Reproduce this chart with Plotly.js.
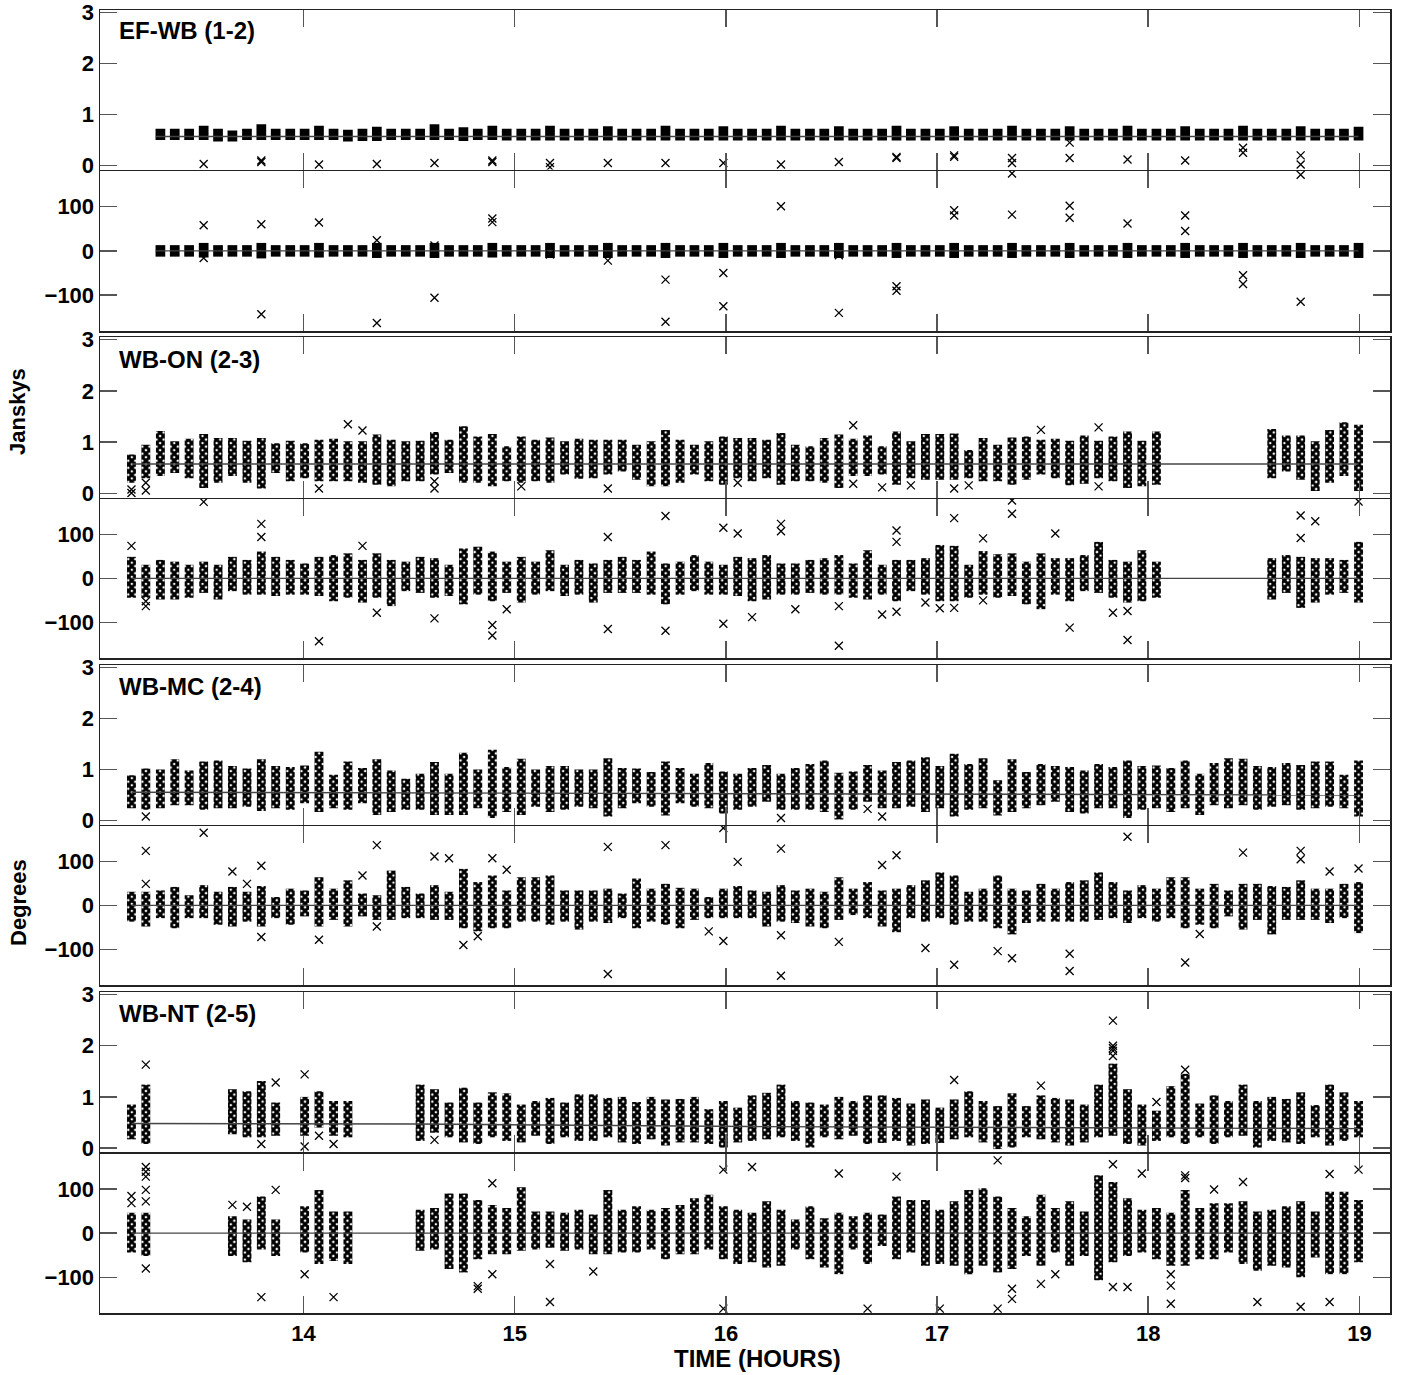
<!DOCTYPE html>
<html><head><meta charset="utf-8">
<script src="https://cdn.plot.ly/plotly-3.0.1.min.js"></script>
<style>html,body{margin:0;padding:0;background:#fff}#plot{width:1401px;height:1375px}</style>
</head><body><div id="plot"></div>
<script>
// ---- scan times (hours) ----
const scanTimes = [13.185,13.253,13.322,13.390,13.458,13.527,13.595,13.663,13.732,13.800,
13.868,13.937,14.005,14.073,14.142,14.210,14.279,14.347,14.415,14.484,
14.552,14.620,14.689,14.757,14.825,14.894,14.962,15.031,15.099,15.167,
15.236,15.304,15.372,15.441,15.509,15.577,15.646,15.714,15.783,15.851,
15.919,15.988,16.056,16.124,16.193,16.261,16.329,16.398,16.466,16.535,
16.603,16.671,16.740,16.808,16.876,16.945,17.013,17.081,17.150,17.218,
17.287,17.355,17.423,17.492,17.560,17.628,17.697,17.765,17.833,17.902,
17.970,18.039,18.107,18.175,18.244,18.312,18.380,18.449,18.517,18.585,
18.654,18.722,18.791,18.859,18.927,18.996];
const N = null;
// ---- EF-WB (1-2) ----
const efwbAmpHi = [N,N,.72,.72,.72,.78,.72,.69,.72,.81, .72,.72,.72,.78,.72,.70,.72,.76,.72,.72,
 .72,.81,.72,.75,.72,.78,.72,.72,.72,.78, .72,.72,.72,.77,.72,.72,.72,.78,.72,.72,
 .72,.77,.72,.72,.72,.78,.72,.72,.72,.77, .72,.72,.72,.78,.72,.72,.72,.77,.72,.72,
 .72,.78,.72,.72,.72,.77,.72,.72,.72,.78, .72,.72,.72,.77,.72,.72,.72,.78,.72,.72,
 .72,.77,.72,.72,.72,.76];
const efwbAmpLo = [N,N,.50,.50,.50,.50,.47,.47,.50,.50, .50,.50,.50,.50,.50,.47,.48,.48,.50,.50,
 .50,.50,.50,.48,.50,.50,.49,.49,.49,.49, .49,.49,.49,.49,.49,.49,.49,.49,.49,.49,
 .49,.49,.49,.49,.49,.49,.49,.49,.49,.49, .49,.49,.49,.49,.49,.49,.49,.49,.49,.49,
 .49,.49,.49,.49,.49,.49,.49,.49,.49,.49, .49,.49,.49,.49,.49,.49,.49,.49,.49,.49,
 .49,.49,.49,.49,.49,.49];
const efwbAmpOut = [[5,.03],[9,.07],[9,.10],[13,.02],[17,.03],[21,.05],[25,.10],[25,.07],[29,.05],[29,-.03],
 [33,.05],[37,.05],[41,.05],[45,.02],[49,.07],[53,.17],[53,.15],[57,.20],[57,.17],[61,.15],[61,.05],
 [65,.45],[65,.15],[69,.12],[73,.10],[77,.35],[77,.25],[81,.20],[81,.02]];
const efwbPhsHi = [N,N,13,13,13,18,13,13,13,18, 13,13,13,18,13,13,13,18,13,13, 13,18,13,13,13,18,13,13,13,18,
 13,13,13,18,13,13,13,18,13,13, 13,18,13,13,13,18,13,13,13,18, 13,13,13,18,13,13,13,18,13,13,
 13,18,13,13,13,18,13,13,13,18, 13,13,13,18,13,13,13,18,13,13, 13,18,13,13,13,18];
const efwbPhsLo = [N,N,-13,-13,-13,-15,-13,-13,-13,-17, -13,-13,-13,-15,-13,-13,-13,-16,-13,-13, -13,-16,-13,-13,-13,-15,-13,-13,-13,-16,
 -13,-13,-13,-16,-13,-13,-13,-16,-13,-13, -13,-16,-13,-13,-13,-16,-13,-13,-13,-16, -13,-13,-13,-16,-13,-13,-13,-16,-13,-13,
 -13,-16,-13,-13,-13,-16,-13,-13,-13,-16, -13,-13,-13,-16,-13,-13,-13,-16,-13,-13, -13,-16,-13,-13,-13,-16];
const efwbPhsOut = [[5,58],[5,-16],[9,60],[9,-143],[13,64],[17,24],[17,-163],[21,12],[21,-106],[25,73],[25,65],
 [29,-8],[33,-22],[37,-65],[37,-160],[41,-50],[41,-125],[45,101],[49,-140],[49,-10],[53,-80],[53,-90],
 [57,92],[57,80],[61,82],[61,175],[65,102],[65,75],[69,62],[73,80],[73,45],[77,-55],[77,-75],[81,-115],[81,172]];
// ---- WB-ON (2-3) ----
const onAmpHi = [.76,.95,1.22,1.02,1.07,1.16,1.08,1.08,1.03,1.08, .98,1.03,.98,1.05,1.07,1.02,1.02,1.15,1.05,1.02,
 1.03,1.20,1.05,1.31,1.11,1.16,.92,1.11,1.05,1.09, 1.02,1.07,1.05,1.05,1.05,.95,1.02,1.24,1.05,.95,
 1.02,1.11,1.08,1.08,1.05,1.18,.95,.92,1.08,1.15, 1.07,1.13,.92,1.21,1.02,1.16,1.16,1.17,.85,1.08,
 .95,1.09,1.11,1.05,1.07,1.03,1.13,1.03,1.11,1.21, 1.03,1.21,N,N,N,N,N,N,N,1.26, 1.13,1.13,1.02,1.24,1.39,1.34];
const onAmpLo = [.21,.30,.34,.40,.30,.11,.21,.34,.21,.10, .40,.24,.30,.24,.24,.24,.21,.17,.14,.24,
 .24,.37,.40,.21,.21,.14,.24,.21,.24,.21, .37,.29,.30,.37,.43,.27,.14,.14,.21,.37,
 .24,.17,.30,.24,.30,.17,.24,.24,.21,.11, .34,.34,.37,.17,.30,.27,.27,.27,.30,.24,
 .24,.17,.27,.37,.30,.16,.19,.30,.24,.11, .14,.17,N,N,N,N,N,N,N,.30, .43,.27,.05,.21,.34,.05];
const onAmpOut = [[0,.08],[0,.01],[1,.21],[1,.06],[13,.10],[15,1.35],[16,1.23],[21,.24],[21,.10],[27,.14],[33,.10],
 [42,.21],[50,1.33],[50,.19],[52,.12],[54,.16],[57,.10],[58,.16],[63,1.24],[67,1.29],[67,.14]];
const onPhsHi = [49,31,42,38,31,38,31,49,42,61, 49,42,34,49,53,57,42,57,42,38, 49,46,31,68,72,61,38,49,38,64,
 31,42,34,42,49,42,61,34,38,53, 38,31,49,46,53,34,34,42,46,53, 34,64,31,42,42,46,76,74,31,62,
 55,57,38,57,46,46,53,83,42,38, 64,38,N,N,N,N,N,N,N,46, 53,49,46,46,42,83];
const onPhsLo = [-44,-44,-48,-48,-44,-33,-48,-29,-37,-37, -40,-37,-37,-40,-52,-44,-55,-44,-63,-29,
 -33,-44,-40,-59,-37,-52,-33,-55,-37,-29, -40,-37,-55,-33,-33,-33,-37,-59,-37,-29,
 -37,-37,-40,-52,-48,-37,-37,-33,-37,-37, -44,-48,-37,-52,-29,-37,-52,-52,-44,-37,
 -44,-40,-59,-70,-37,-52,-29,-33,-44,-55, -52,-44,N,N,N,N,N,N,N,-48, -33,-67,-55,-37,-33,-55];
const onPhsOut = [[0,74],[1,-52],[1,-63],[5,174],[9,124],[9,94],[13,-143],[16,74],[17,-78],[21,-91],[25,-106],[25,-130],
 [26,-70],[33,94],[33,-115],[37,142],[37,-119],[41,115],[41,-103],[42,102],[43,-88],[45,124],[45,107],[46,-70],
 [49,-63],[49,-153],[52,-82],[53,109],[53,83],[53,-76],[55,-55],[56,-68],[57,137],[57,-67],[59,91],[59,-50],
 [61,147],[61,177],[64,102],[65,-112],[68,-78],[69,-74],[69,-140],[81,143],[81,92],[82,130],[85,175]];
// ---- WB-MC (2-4) ----
const mcAmpHi = [.89,1.02,1.0,1.2,.98,1.16,1.18,1.07,1.02,1.2, 1.07,1.05,1.08,1.35,.9,1.16,1.03,1.2,.98,.82,
 .92,1.15,.92,1.33,1.0,1.39,1.05,1.21,1.0,1.07, 1.07,1.0,1.0,1.22,1.03,1.02,.95,1.16,1.03,.92,
 1.13,.96,.92,1.03,1.09,.92,1.03,1.11,1.18,.94, .96,1.09,.98,1.15,1.18,1.24,1.07,1.31,1.11,1.22,
 .79,1.2,.95,1.11,1.07,1.05,.98,1.11,1.05,1.18, 1.07,1.08,1.03,1.18,.92,1.13,1.22,1.21,1.07,1.05,
 1.13,1.09,1.16,1.16,.9,1.18];
const mcAmpLo = [.24,.21,.24,.3,.3,.21,.24,.24,.27,.19, .24,.21,.34,.17,.24,.21,.34,.11,.17,.21,
 .21,.11,.11,.11,.24,.05,.17,.11,.27,.17, .21,.27,.24,.08,.24,.34,.27,.1,.34,.27,
 .24,.14,.21,.27,.37,.21,.21,.21,.17,.02, .21,.37,.24,.24,.27,.17,.24,.08,.21,.24,
 .10,.17,.24,.3,.37,.17,.14,.24,.24,.05, .21,.24,.17,.24,.11,.3,.24,.3,.21,.27,
 .3,.21,.24,.27,.24,.08];
const mcAmpOut = [[1,.08],[45,.05],[51,.23],[52,.08]];
const mcPhsHi = [31,31,34,42,23,46,31,42,31,44, 19,38,34,64,38,57,27,23,79,42, 27,46,31,83,53,68,34,64,64,68,
 34,34,34,38,27,61,38,49,40,38, 19,38,44,34,31,46,34,38,31,64, 38,53,34,38,46,57,75,68,31,38,
 68,38,34,49,38,53,57,75,53,34, 46,38,64,64,38,49,34,49,49,44, 42,57,38,38,49,53];
const mcPhsLo = [-37,-48,-29,-52,-29,-29,-44,-48,-37,-48, -29,-44,-25,-48,-33,-48,-25,-33,-33,-29,
 -29,-33,-33,-52,-59,-52,-52,-37,-37,-44, -37,-55,-37,-40,-29,-52,-37,-44,-52,-33,
 -29,-29,-29,-29,-48,-37,-40,-48,-52,-33, -22,-29,-48,-61,-29,-37,-29,-44,-37,-37,
 -52,-66,-40,-37,-37,-37,-37,-33,-29,-40, -29,-37,-29,-52,-44,-52,-25,-55,-33,-66,
 -33,-33,-33,-40,-29,-63];
const mcPhsOut = [[1,124],[1,49],[5,165],[7,77],[8,49],[9,90],[9,-72],[13,-78],[16,68],[17,137],[17,-48],[21,111],
 [22,107],[23,-90],[24,-70],[25,107],[26,81],[33,133],[33,-156],[37,137],[40,-59],[41,-81],[41,176],[42,99],
 [45,129],[45,-68],[45,-160],[49,-83],[52,92],[53,114],[55,-97],[57,-135],[60,-104],[61,-120],[65,-110],[65,-149],
 [69,156],[73,-130],[74,-65],[77,120],[81,124],[81,105],[83,77],[85,84]];
// ---- WB-NT (2-5) ----
const ntAmpHi = [.85,1.24,N,N,N,N,N,1.15,1.11,1.31, .89,N,1.0,1.11,.92,.92,N,N,N,N,
 1.24,1.15,.89,1.18,.89,1.09,1.07,.85,.92,.98, .89,1.05,1.05,.98,1.0,.9,1.0,.95,.96,1.0,
 .76,.92,.79,1.03,1.08,1.24,.92,.89,.85,1.0, .92,1.03,1.03,.98,.87,.95,.79,.95,1.11,.92,
 .82,1.07,.82,1.03,.98,.95,.85,1.24,1.65,1.15, .85,.73,1.21,1.45,.87,1.03,.92,1.24,.92,1.0,
 .96,1.09,.84,1.24,1.09,.92];
const ntAmpLo = [.17,.08,N,N,N,N,N,.27,.21,.21, .24,N,.24,.4,.24,.21,N,N,N,N,
 .14,.3,.21,.11,.08,.21,.14,.11,.24,.08, .21,.14,.14,.21,.11,.08,.17,.05,.11,.11,
 .08,.01,.11,.14,.17,.21,.14,.01,.21,.17, .24,.08,.10,.14,.05,.08,.10,.17,.21,.11,
 -.02,.01,.21,.17,.11,.05,.11,.21,.24,.08, .05,.14,.21,.08,.21,.08,.21,.24,.01,.14,
 .11,.08,.21,.05,.14,.21];
const ntAmpOut = [[1,1.63],[9,.08],[10,1.28],[12,1.44],[12,.03],[13,.24],[14,.08],[21,.16],[57,1.33],[63,1.22],
 [68,2.49],[68,2.0],[68,1.95],[68,1.9],[68,1.8],[71,.9],[73,1.53]];
const ntPhsHi = [46,46,N,N,N,N,N,38,31,83, 31,N,61,98,49,49,N,N,N,N, 53,57,90,90,75,64,57,104,49,49,
 46,53,42,98,53,61,53,57,64,79, 87,61,53,46,72,53,31,61,34,46, 38,46,42,83,75,75,53,72,98,102,
 83,57,38,87,57,72,49,131,116,79, 53,57,46,98,57,68,68,72,49,53, 61,72,49,94,94,75];
const ntPhsLo = [-44,-52,N,N,N,N,N,-52,-66,-37, -52,N,-44,-70,-63,-70,N,N,N,N,
 -40,-37,-81,-89,-59,-48,-48,-40,-37,-33, -40,-37,-48,-48,-44,-44,-37,-59,-48,-48,
 -37,-59,-70,-66,-78,-74,-37,-59,-78,-93, -37,-70,-29,-59,-44,-74,-70,-74,-93,-74,
 -89,-81,-52,-74,-44,-74,-52,-107,-66,-52, -44,-59,-74,-74,-59,-59,-44,-70,-85,-74,
 -78,-100,-55,-93,-93,-66];
const ntPhsOut = [[0,84],[0,68],[1,150],[1,139],[1,128],[1,98],[1,72],[1,-80],[7,64],[8,60],[9,-145],[10,98],
 [12,-93],[14,-145],[24,-120],[24,-126],[25,113],[25,-93],[29,-70],[29,-156],[32,-87],[41,144],[41,-171],[43,150],
 [49,135],[51,-171],[53,128],[56,-171],[60,165],[60,-171],[61,-126],[61,-149],[63,-115],[64,-93],[68,156],[68,-122],
 [69,-122],[70,135],[72,-93],[72,-119],[72,-160],[73,131],[73,125],[75,99],[77,116],[78,-156],[81,-167],[83,134],
 [83,-156],[85,144]];
// ---- model lines ----
const modelT = [13.185, 14.55, 16.12, 18.996];
const efwbModelT = [13.30, 14.55, 16.12, 18.996];
const efwbModel = [.57,.57,.57,.57];
const onModel = [.575,.575,.575,.575];
const mcModel = [.555,.54,.52,.50];
const ntModel = [.48,.47,.42,.38];
const phsModel = [0,0,0,0];
const baselineLabels = ['EF-WB (1-2)','WB-ON (2-3)','WB-MC (2-4)','WB-NT (2-5)'];

// ---- build ----
const FONT = 'Liberation Sans, Arial, Helvetica, sans-serif';
const panels = [
  {hi:efwbAmpHi, lo:efwbAmpLo, out:efwbAmpOut, mt:efwbModelT, model:efwbModel, amp:true, solid:true},
  {hi:efwbPhsHi, lo:efwbPhsLo, out:efwbPhsOut, mt:efwbModelT, model:phsModel, amp:false, solid:true},
  {hi:onAmpHi, lo:onAmpLo, out:onAmpOut, mt:modelT, model:onModel, amp:true},
  {hi:onPhsHi, lo:onPhsLo, out:onPhsOut, mt:modelT, model:phsModel, amp:false},
  {hi:mcAmpHi, lo:mcAmpLo, out:mcAmpOut, mt:modelT, model:mcModel, amp:true},
  {hi:mcPhsHi, lo:mcPhsLo, out:mcPhsOut, mt:modelT, model:phsModel, amp:false},
  {hi:ntAmpHi, lo:ntAmpLo, out:ntAmpOut, mt:modelT, model:ntModel, amp:true},
  {hi:ntPhsHi, lo:ntPhsLo, out:ntPhsOut, mt:modelT, model:phsModel, amp:false}
];
const H = 1375, MT = 10, MB = 62, PH = H - MT - MB;
const pix = [[10,169.5],[171,331],[337,497.5],[499,658],[665,824.5],[826,985],[992,1152],[1153.5,1313]];
const traces = [];
const layout = {
  width:1401, height:1375, margin:{l:100,r:11,t:MT,b:MB},
  paper_bgcolor:'#fff', plot_bgcolor:'#fff', showlegend:false,
  font:{family:FONT, color:'#000'}, annotations:[]
};
panels.forEach((p,k)=>{
  const n = k+1, xs = n===1?'x':'x'+n, ys = n===1?'y':'y'+n;
  const bx=[], by=[], bb=[];
  scanTimes.forEach((t,i)=>{ if(p.hi[i]!=null){ bx.push(t); bb.push(p.lo[i]); by.push(p.hi[i]-p.lo[i]); } });
  traces.push({type:'scatter', mode:'lines', x:p.mt, y:p.model, xaxis:xs, yaxis:ys,
    line:{color:'#444', width:1.4}, hoverinfo:'skip'});
  traces.push({type:'bar', x:bx, y:by, base:bb, width: p.solid ? 0.046 : 0.042, xaxis:xs, yaxis:ys,
    marker: p.solid ? {color:'#000', line:{width:0}} :
      {color:'#000', line:{width:0}, pattern:{shape:'x', fgcolor:'#000', bgcolor:'#fff', size:5, solidity:0.82, fillmode:'replace'}},
    hoverinfo:'skip'});
  traces.push({type:'scatter', mode:'markers', x:p.out.map(o=>scanTimes[o[0]]), y:p.out.map(o=>o[1]),
    xaxis:xs, yaxis:ys, cliponaxis:true,
    marker:{symbol:'x-thin', size:8, color:'#000', line:{width:1.3, color:'#000'}}, hoverinfo:'skip'});
  const [top,bot] = pix[k];
  const d0 = (H - MB - bot)/PH, d1 = (H - MB - top)/PH;
  layout[n===1?'xaxis':'xaxis'+n] = {
    domain:[0,1], anchor:ys, range:[13.036,19.145], tickvals:[14,15,16,17,18,19], ticktext:['14','15','16','17','18','19'],
    ticks:'inside', ticklen:17, tickwidth:1.5, tickcolor:'#555', showline:true, linecolor:'#222', linewidth:1.5,
    mirror:'ticks', showgrid:false, zeroline:false, showticklabels:(n===8), fixedrange:true,
    tickfont:{family:FONT, size:22, color:'#000', weight:'bold'}
  };
  layout[n===1?'yaxis':'yaxis'+n] = {
    domain:[Math.max(0,d0), Math.min(1,d1)], anchor:xs,
    range: p.amp ? [-0.077,3.05] : [-181,180.5],
    tickvals: p.amp ? [0,1,2,3] : [-100,0,100],
    ticks:'inside', ticklen:17, tickwidth:1.5, tickcolor:'#555', showline:true, linecolor:'#222', linewidth:1.5,
    mirror:'ticks', showgrid:false, zeroline:false, fixedrange:true,
    tickfont:{family:FONT, size:22, color:'#000', weight:'bold'}
  };
});
const paperY = py => (H - MB - py)/PH;
const paperX = px => (px - 100)/1290;
const labelY = [31, 359, 686, 1013];
baselineLabels.forEach((s,i)=>{
  layout.annotations.push({text:s, xref:'paper', yref:'paper', x:paperX(117), y:paperY(labelY[i]),
    xanchor:'left', yanchor:'middle', showarrow:false, font:{family:FONT, size:24, color:'#000', weight:'bold'}});
});
layout.annotations.push({text:'Janskys', xref:'paper', yref:'paper', x:paperX(18), y:paperY(412), textangle:-90,
  xanchor:'center', yanchor:'middle', showarrow:false, font:{family:FONT, size:22, color:'#000', weight:'bold'}});
layout.annotations.push({text:'Degrees', xref:'paper', yref:'paper', x:paperX(18), y:paperY(903), textangle:-90,
  xanchor:'center', yanchor:'middle', showarrow:false, font:{family:FONT, size:22, color:'#000', weight:'bold'}});
layout.annotations.push({text:'TIME (HOURS)', xref:'paper', yref:'paper', x:paperX(757), y:paperY(1358),
  xanchor:'center', yanchor:'middle', showarrow:false, font:{family:FONT, size:24, color:'#000', weight:'bold'}});
Plotly.newPlot('plot', traces, layout, {staticPlot:true, displayModeBar:false});
</script>
</body></html>
